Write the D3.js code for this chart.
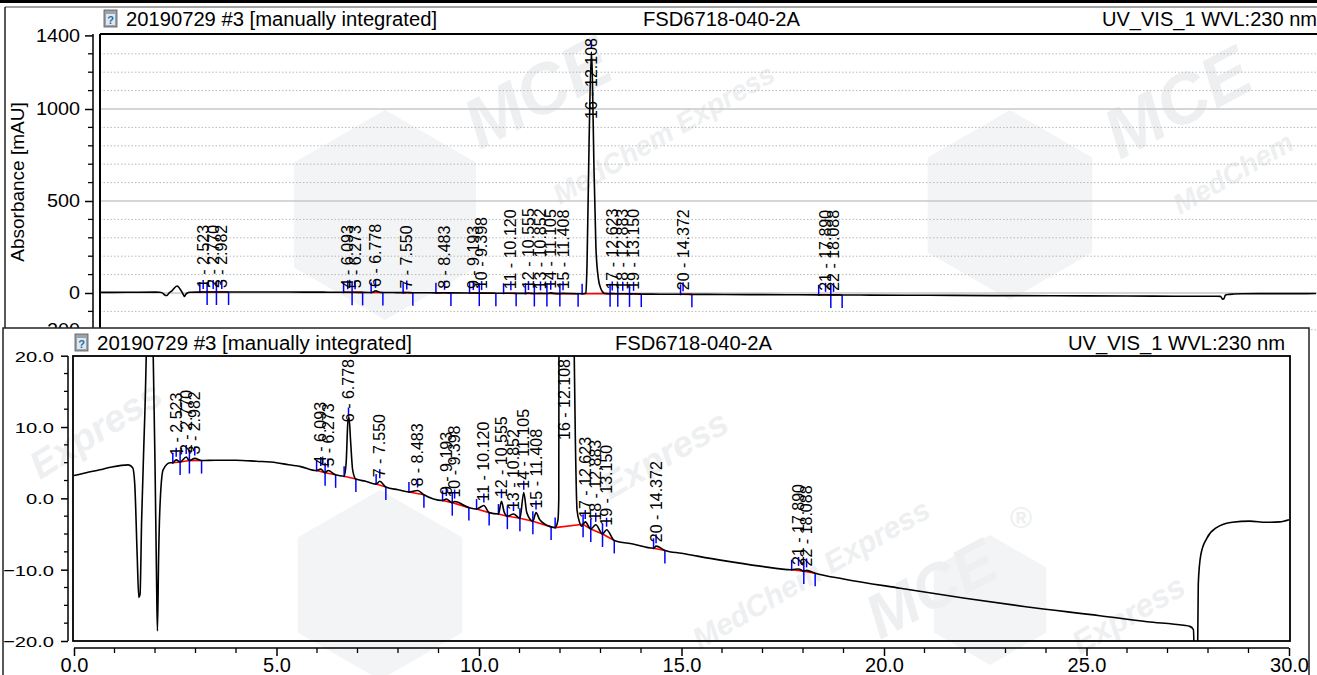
<!DOCTYPE html>
<html>
<head>
<meta charset="utf-8">
<script src="https://cdn.jsdelivr.net/npm/d3@7"></script>
<style>
  html, body { margin: 0; padding: 0; background: #fff; overflow: hidden; }
  svg { display: block; font-family: Arial, "Liberation Sans", sans-serif; }
</style>
</head>
<body>
<svg id="chart" width="1317" height="675"></svg>
<script>
// chromatogram trace (time in min, absorbance in mAU)
const traceTime = [0.00, 0.30, 0.64, 0.90, 1.34, 1.45, 1.50, 1.56, 1.60, 1.63, 1.67, 1.75, 1.88, 1.95, 2.00, 2.04, 2.06, 2.09, 2.12, 2.20, 2.37,
  2.44, 2.523, 2.62, 2.77, 2.85, 2.982, 3.15, 3.50, 4.00, 4.50, 5.00, 5.30, 5.60, 5.99, 6.093, 6.20, 6.273, 6.46,
  6.67, 6.72, 6.76, 6.79, 6.83, 6.88, 6.96, 7.20, 7.46, 7.55, 7.70, 8.00, 8.27, 8.483, 8.64, 9.10, 9.193, 9.34, 9.398, 9.75,
  9.94, 10.12, 10.25, 10.48, 10.555, 10.62, 10.70, 10.852, 11.01, 11.105, 11.18, 11.33, 11.408, 11.50, 11.78, 11.88,
  11.95, 11.97, 12.00, 12.05, 12.108, 12.13, 12.17, 12.22, 12.28, 12.34, 12.38, 12.42, 12.48, 12.53, 12.623, 12.76,
  12.883, 13.05, 13.15, 13.34, 13.80, 14.31, 14.372, 14.59, 15.00, 16.00, 16.94, 17.72, 17.89, 18.02, 18.088, 18.30,
  19.00, 20.40, 22.00, 23.50, 25.33, 26.50, 27.40, 27.55, 27.64, 27.70, 27.73, 27.76, 27.82, 27.97, 28.20, 28.60,
  29.03, 29.44, 29.77, 30.00];
const traceValue = [3.2, 3.6, 4.0, 4.35, 4.7, 4.3, 2.0, -8, -13.9, -13.5, -3, 12, 38, 22, 5, -12, -18.6, -8, -1.5, 4.0, 5.0,
  5.0, 5.4, 5.1, 5.8, 5.3, 5.6, 5.3, 5.35, 5.35, 5.2, 5.0, 4.7, 4.45, 3.9, 4.1, 3.6, 3.9, 3.3,
  3.1, 5.0, 10.5, 11.4, 8.0, 4.0, 2.7, 2.4, 2.0, 2.4, 1.6, 1.2, 0.9, 1.1, 0.5, -0.3, -0.1, -0.6, -0.45, -1.3,
  -1.5, -1.0, -2.0, -2.2, -0.4, -1.9, -2.5, -2.2, -2.8, 0.8, -2.0, -3.2, -2.0, -3.0, -4.0, -4.1,
  -3.0, 0, 150, 800, 1310, 1200, 700, 250, 80, 25, 8, -1.6, -3.3, -3.9, -3.3, -4.3,
  -3.7, -5.0, -4.4, -5.9, -6.4, -7.0, -6.7, -7.3, -7.7, -8.7, -9.5, -10.0, -9.9, -10.2, -10.1, -10.5,
  -11.3, -12.6, -14.0, -15.2, -16.45, -17.3, -17.8, -17.95, -18.4, -34, -30, -12, -8, -5.6, -4.15, -3.35,
  -3.2, -3.35, -3.3, -3.0];

// integration results
const peakNo    = [1, 2, 3, 4, 5, 6, 7, 8, 9, 10, 11, 12, 13, 14, 15, 16, 17, 18, 19, 20, 21, 22];
const peakRT    = [2.523, 2.770, 2.982, 6.093, 6.273, 6.778, 7.550, 8.483, 9.193, 9.398, 10.120, 10.555, 10.852, 11.105, 11.408, 12.108, 12.623, 12.883, 13.150, 14.372, 17.890, 18.088];
const peakStart = [2.44, 2.62, 2.85, 5.99, 6.20, 6.67, 7.46, 8.27, 9.10, 9.34, 9.94, 10.48, 10.70, 11.01, 11.33, 11.88, 12.57, 12.76, 13.05, 14.31, 17.72, 18.02];
const peakEnd   = [2.62, 2.85, 3.15, 6.20, 6.46, 6.96, 7.70, 8.64, 9.34, 9.75, 10.25, 10.70, 11.01, 11.33, 11.78, 12.57, 12.76, 13.05, 13.34, 14.59, 18.02, 18.30];

const headerTexts = ["20190729 #3 [manually integrated]", "FSD6718-040-2A", "UV_VIS_1 WVL:230 nm"];
const topYTicks = [-200, 0, 500, 1000, 1400];
const bottomYTicks = [-20, -10, 0, 10, 20];
const xTicks = [0, 5, 10, 15, 20, 25, 30];

const svg = d3.select("#chart");
const points = traceTime.map((t, i) => [t, traceValue[i]]);

function signal(t) {
  const i = d3.bisectRight(traceTime, t);
  if (i <= 0) return traceValue[0];
  if (i >= traceTime.length) return traceValue[traceValue.length - 1];
  const t0 = traceTime[i - 1], t1 = traceTime[i];
  return d3.interpolateNumber(traceValue[i - 1], traceValue[i])((t - t0) / (t1 - t0));
}

function hexagon(g, cx, cy, r) {
  const pts = d3.range(6).map(k => {
    const a = Math.PI / 3 * k + Math.PI / 6;
    return [cx + r * Math.cos(a), cy + r * Math.sin(a)];
  });
  g.append("path").attr("d", d3.line()(pts) + "Z").attr("fill", "#f3f4f5");
}
function wmText(g, x, y, a, txt, size) {
  g.append("text").attr("transform", `translate(${x},${y}) rotate(${a})`).attr("fill", "#edeff1")
    .attr("font-size", size).attr("font-weight", 700).attr("font-style", "italic").text(txt);
}

// --- faint watermarks behind the upper window
const wm = svg.append("g");
hexagon(wm, 385, 215, 105);
hexagon(wm, 1010, 205, 95);
wmText(wm, 480, 150, -28, "MCE", 70);
wmText(wm, 560, 205, -30, "MedChem Express", 28);
wmText(wm, 1120, 160, -28, "MCE", 70);
wmText(wm, 1180, 215, -30, "MedChem", 28);

function icon(g, x, y) {
  g.append("rect").attr("x", x).attr("y", y).attr("width", 13).attr("height", 17)
    .attr("fill", "#9aa4ad").attr("stroke", "#555").attr("stroke-width", 0.8);
  g.append("rect").attr("x", x + 2).attr("y", y + 4).attr("width", 9).attr("height", 11).attr("fill", "#dfe8ee");
  g.append("text").attr("x", x + 6.5).attr("y", y + 14).attr("text-anchor", "middle")
    .attr("font-size", 11).attr("font-weight", 700).attr("fill", "#2b6aa8").text("?");
}

function header(g, baseY, xs) {
  icon(g, xs[0] - 22, baseY - 16);
  headerTexts.forEach((txt, i) => {
    g.append("text").attr("x", xs[i]).attr("y", baseY).attr("font-size", 20)
      .attr("textLength", xs[i + 3]).attr("lengthAdjust", "spacingAndGlyphs").text(txt);
  });
}

function drawPeaks(g, x, y, plotTop) {
  peakNo.forEach((n, i) => {
    const s = peakStart[i], e = peakEnd[i], rt = peakRT[i];
    const ys = y(signal(s)), ye = y(signal(e)), ya = y(signal(rt));
    g.append("line").attr("x1", x(s)).attr("x2", x(e)).attr("y1", ys).attr("y2", ye)
      .attr("stroke", "#ff0000").attr("stroke-width", 1.6);
    g.append("line").attr("x1", x(s)).attr("x2", x(s)).attr("y1", ys - 10).attr("y2", ys + 1)
      .attr("stroke", "#0000ff").attr("stroke-width", 1.5);
    g.append("line").attr("x1", x(e)).attr("x2", x(e)).attr("y1", ye).attr("y2", ye + 13)
      .attr("stroke", "#0000ff").attr("stroke-width", 1.5);
    if (ya > plotTop + 4) {
      g.append("line").attr("x1", x(rt)).attr("x2", x(rt)).attr("y1", ya - 12).attr("y2", ya - 3)
        .attr("stroke", "#0000ff").attr("stroke-width", 1.5);
    }
  });
}

function drawLabels(g, x, y, plotTop) {
  peakNo.forEach((n, i) => {
    const rt = peakRT[i];
    const ya = y(signal(rt));
    const t = g.append("text").attr("font-size", 16).attr("fill", "#000")
      .text(`${n} - ${rt.toFixed(3)}`);
    const len = t.node().getComputedTextLength();
    const y0 = Math.max(ya - 4, plotTop + 3 + len);
    t.attr("transform", `translate(${x(rt) + 5.5},${y0}) rotate(-90)`);
  });
}

const line = (x, y) => d3.line().x(d => x(d[0])).y(d => y(d[1])).curve(d3.curveMonotoneX);

// ================= UPPER PANEL (full scale) =================
const topG = svg.append("g");
topG.append("rect").attr("x", 0).attr("y", 0).attr("width", 1317).attr("height", 3).attr("fill", "#000");
topG.append("line").attr("x1", 5).attr("x2", 1317).attr("y1", 7).attr("y2", 7).attr("stroke", "#444");
topG.append("line").attr("x1", 5).attr("x2", 5).attr("y1", 7).attr("y2", 330).attr("stroke", "#222").attr("stroke-width", 1.5);
header(topG, 26, [126, 643, 1102, 311, 157, 215]);

const xT = d3.scaleLinear().domain([0, 30]).range([101, 1316]);
const yT = d3.scaleLinear().domain([-200, 1400]).range([329.8, 35.4]);

// grid
d3.range(-200, 1401, 100).forEach(v => {
  if (v === 1400) return;
  const major = v % 500 === 0;
  topG.append("line").attr("x1", 100).attr("x2", 1317).attr("y1", yT(v)).attr("y2", yT(v))
    .attr("stroke", major ? "#c8c8c8" : "#b8b8b8").attr("stroke-width", major ? 1.4 : 1)
    .attr("stroke-dasharray", major ? null : "1.5,2");
});

const gYT = topG.append("g").attr("transform", "translate(93,0)")
  .call(d3.axisLeft(yT).tickValues(topYTicks).tickSize(8).tickFormat(d3.format("d")));
gYT.select(".domain").attr("d", "M0,34V340").attr("stroke", "#000").attr("stroke-width", 1.5);
gYT.selectAll(".tick line").attr("stroke-width", 1.5);
gYT.selectAll(".tick text").attr("font-size", 18).attr("font-family", "Arial, 'Liberation Sans', sans-serif")
  .attr("x", 0).attr("transform", "translate(-13,0) scale(1.1,1)").attr("fill", "#000");
d3.range(-200, 1401, 100).filter(v => !topYTicks.includes(v)).forEach(v => {
  topG.append("line").attr("x1", 88).attr("x2", 93).attr("y1", yT(v)).attr("y2", yT(v)).attr("stroke", "#000").attr("stroke-width", 1.3);
});
topG.append("text").attr("transform", "translate(24,182) rotate(-90)").attr("text-anchor", "middle")
  .attr("font-size", 19).text("Absorbance [mAU]");

topG.append("line").attr("x1", 100).attr("x2", 1317).attr("y1", 34).attr("y2", 34).attr("stroke", "#000").attr("stroke-width", 2);
topG.append("line").attr("x1", 100).attr("x2", 100).attr("y1", 34).attr("y2", 340).attr("stroke", "#000").attr("stroke-width", 2);

svg.append("clipPath").attr("id", "clipT").append("rect").attr("x", 101).attr("y", 35).attr("width", 1216).attr("height", 300);
const plotT = topG.append("g").attr("clip-path", "url(#clipT)");
drawPeaks(plotT, xT, yT, 35);
plotT.append("path").datum(points).attr("d", line(xT, yT)).attr("fill", "none").attr("stroke", "#000").attr("stroke-width", 1.6);
drawLabels(plotT, xT, yT, 35);

// ================= LOWER PANEL (zoomed) =================
const botG = svg.append("g");
botG.append("rect").attr("x", 3).attr("y", 328).attr("width", 1306).attr("height", 360)
  .attr("fill", "#fff").attr("stroke", "#222").attr("stroke-width", 1.5);
const wm2 = botG.append("g");
hexagon(wm2, 380, 585, 95);
hexagon(wm2, 990, 600, 65);
wmText(wm2, 40, 480, -32, "Express", 38);
wmText(wm2, 610, 500, -30, "Express", 36);
wmText(wm2, 700, 650, -30, "MedChem Express", 30);
wmText(wm2, 880, 640, -28, "MCE", 62);
wmText(wm2, 1080, 655, -30, "Express", 32);
wm2.append("text").attr("x", 1010).attr("y", 528).attr("font-size", 30).attr("font-weight", 700).attr("fill", "#edeff1").text("®");

header(botG, 350, [97, 615, 1068, 315, 157, 217]);

const xB = d3.scaleLinear().domain([0, 30]).range([74, 1289]);
const yB = d3.scaleLinear().domain([-20, 20]).range([641, 355.7]);

// y axis
const gYB = botG.append("g").attr("transform", "translate(68,0)")
  .call(d3.axisLeft(yB).tickValues(bottomYTicks).tickSize(7).tickFormat(d3.format(".1f")));
gYB.select(".domain").attr("d", "M0,356V641").attr("stroke", "#000").attr("stroke-width", 1.5);
gYB.selectAll(".tick line").attr("stroke-width", 1.5);
gYB.selectAll(".tick text").attr("font-size", 15.5).attr("font-family", "Arial, 'Liberation Sans', sans-serif")
  .attr("fill", "#000").attr("x", 0).attr("dy", "0.36em")
  .attr("transform", "translate(-14,0) scale(1.3,1)");
d3.range(-20, 20.1, 2.5).filter(v => v % 10 !== 0).forEach(v => {
  botG.append("line").attr("x1", 64).attr("x2", 68).attr("y1", yB(v)).attr("y2", yB(v)).attr("stroke", "#000").attr("stroke-width", 1.3);
});

// x axis
const gXB = botG.append("g").attr("transform", "translate(0,648)")
  .call(d3.axisBottom(xB).tickValues(xTicks).tickSize(8).tickFormat(d3.format(".1f")));
gXB.select(".domain").attr("d", "M74,0H1289").attr("stroke", "#000").attr("stroke-width", 1.5);
gXB.selectAll(".tick line").attr("stroke-width", 1.5);
gXB.selectAll(".tick text").attr("font-size", 20).attr("font-family", "Arial, 'Liberation Sans', sans-serif")
  .attr("fill", "#000").attr("y", 9).attr("dy", "0.76em");
d3.range(0, 30.1, 1).filter(v => v % 5 !== 0).forEach(v => {
  botG.append("line").attr("x1", xB(v)).attr("x2", xB(v)).attr("y1", 648).attr("y2", 653).attr("stroke", "#000").attr("stroke-width", 1.3);
});

svg.append("clipPath").attr("id", "clipB").append("rect").attr("x", 73).attr("y", 356).attr("width", 1217).attr("height", 285);
const plotB = botG.append("g").attr("clip-path", "url(#clipB)");
drawPeaks(plotB, xB, yB, 356);
plotB.append("path").datum(points).attr("d", line(xB, yB)).attr("fill", "none").attr("stroke", "#000").attr("stroke-width", 1.6);
drawLabels(plotB, xB, yB, 356);

botG.append("rect").attr("x", 73).attr("y", 356).attr("width", 1217).attr("height", 285)
  .attr("fill", "none").attr("stroke", "#000").attr("stroke-width", 1.8);
</script>
</body>
</html>
